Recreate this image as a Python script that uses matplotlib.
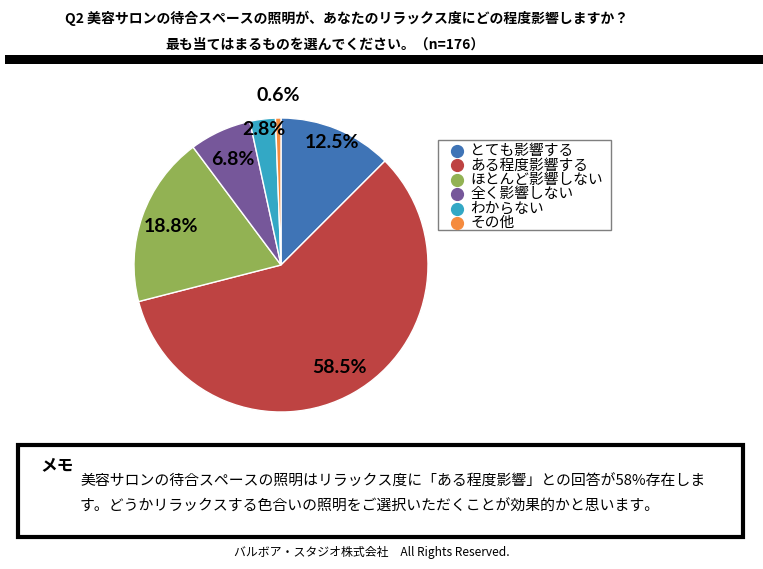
import numpy as np
import matplotlib.pyplot as plt
from matplotlib.patches import Rectangle
from matplotlib.lines import Line2D

plt.rcParams['font.family'] = ['Noto Sans CJK JP', 'DejaVu Sans']

# データ
labels = ['とても影響する', 'ある程度影響する', 'ほとんど影響しない', '全く影響しない', 'わからない', 'その他']
values = [12.5, 58.5, 18.8, 6.8, 2.8, 0.6]
colors = ['#3f74b6', '#be4342', '#92b253', '#76579a', '#33a8c5', '#f58b3e']
label_r = [0.9, 0.8, 0.79, 0.79, 0.93, 1.15]

title1 = 'Q2 美容サロンの待合スペースの照明が、あなたのリラックス度にどの程度影響しますか？'
title2 = '最も当てはまるものを選んでください。（n=176）'
memo_head = 'メモ'
memo_lines = ['美容サロンの待合スペースの照明はリラックス度に「ある程度影響」との回答が58%存在しま',
              'す。どうかリラックスする色合いの照明をご選択いただくことが効果的かと思います。']
footer = 'バルボア・スタジオ株式会社　All Rights Reserved.'

W, H = 763, 569
fig = plt.figure(figsize=(W / 100, H / 100), dpi=100)

def fx(x):
    return x / W

def fy(y):
    return 1 - y / H

# タイトル
fig.text(fx(65), fy(18), title1, fontsize=10, fontweight='bold', va='center', ha='left')
fig.text(fx(165), fy(45), title2, fontsize=10, fontweight='bold', va='center', ha='left')
fig.patches.append(Rectangle((fx(5), fy(64)), fx(758), 9 / H, transform=fig.transFigure,
                             facecolor='black', edgecolor='none'))

# 円グラフ
cx, cy, r = 281, 265, 147
ax = fig.add_axes([fx(cx - r), fy(cy + r), 2 * r / W, 2 * r / H])
wedges, _ = ax.pie(values, colors=colors, startangle=90, counterclock=False, radius=1,
                   wedgeprops=dict(edgecolor='white', linewidth=1))
ax.set_xlim(-1, 1)
ax.set_ylim(-1, 1)
ax.set_aspect('equal')
ax.axis('off')

cum = np.cumsum([0] + values[:-1])
for v, c0, d in zip(values, cum, label_r):
    ang = np.deg2rad(90 - 3.6 * (c0 + v / 2))
    ax.text(d * np.cos(ang), d * np.sin(ang), f'{v:.1f}%', ha='center', va='center',
            fontsize=14, fontweight='bold', family=['Lato', 'DejaVu Sans'], clip_on=False)

# 凡例（行間を詰めるため手で並べる）
fig.patches.append(Rectangle((fx(438), fy(230)), 173 / W, 90 / H, transform=fig.transFigure,
                             facecolor='white', edgecolor='#7f7f7f', linewidth=1))
for i, (lab, c) in enumerate(zip(labels, colors)):
    y = 151 + 14.4 * i
    fig.add_artist(Line2D([fx(457)], [fy(y)], marker='o', markersize=8.5, linestyle='none',
                          markerfacecolor=c, markeredgecolor=c, transform=fig.transFigure))
    fig.text(fx(470), fy(y), lab, fontsize=10.6, va='center', ha='left')

# メモ
fig.patches.append(Rectangle((fx(18), fy(537)), fx(725), 92 / H, transform=fig.transFigure,
                             facecolor='white', edgecolor='black', linewidth=3))
fig.text(fx(40), fy(465), memo_head, fontsize=12, fontweight='bold', va='center', ha='left')
fig.text(fx(80), fy(482), memo_lines[0], fontsize=10.7, va='center', ha='left')
fig.text(fx(80), fy(507), memo_lines[1], fontsize=10.7, va='center', ha='left')

fig.text(fx(372), fy(552), footer, fontsize=8.6, va='center', ha='center')

fig.savefig('out.png', dpi=100)
